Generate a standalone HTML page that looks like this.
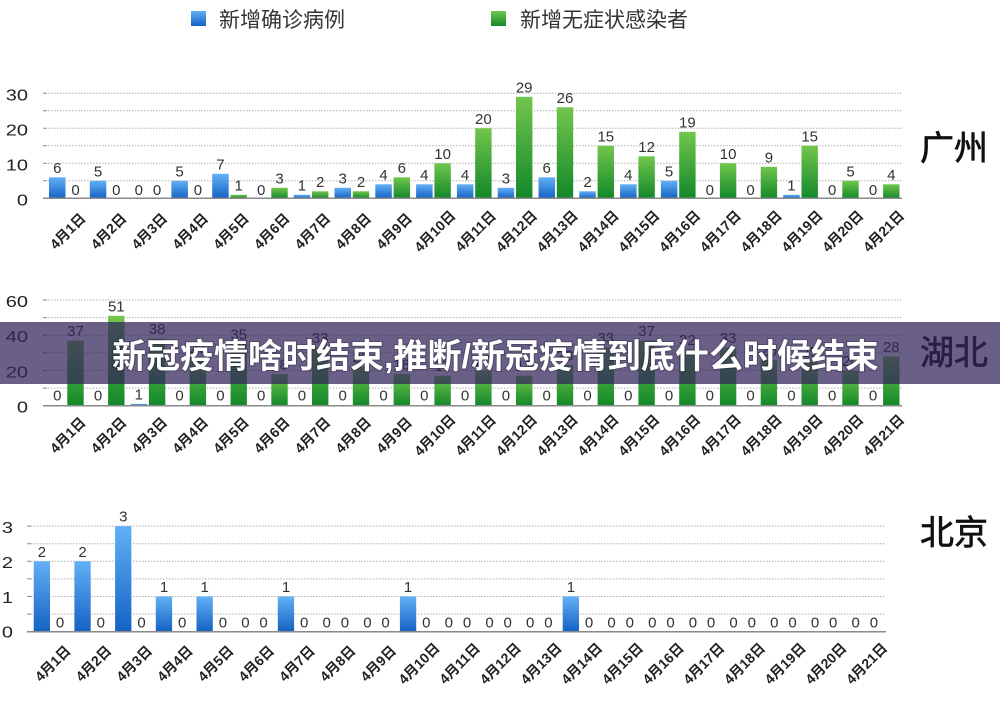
<!DOCTYPE html>
<html><head><meta charset="utf-8"><style>
html,body{margin:0;padding:0;background:#fff;}
svg{display:block;}
.v{font-family:"Liberation Sans",sans-serif;font-size:15px;fill:#333;text-anchor:middle;}
.c{font-family:"Liberation Sans","Noto Sans CJK SC",sans-serif;font-weight:bold;font-size:14px;fill:#222;text-anchor:middle;}
.yl{font-family:"Liberation Sans",sans-serif;font-size:16px;fill:#222;text-anchor:end;}
.lg{font-family:"Liberation Sans","Noto Sans CJK SC",sans-serif;font-size:21px;fill:#333;}
.tt{font-family:"Liberation Sans","Noto Sans CJK SC",sans-serif;font-size:34px;fill:#111;stroke:#111;stroke-width:0.7;}
.bn{font-family:"Liberation Sans","Noto Sans CJK SC",sans-serif;font-size:34px;font-weight:bold;fill:#fff;}
.gr{stroke:#b0b0b0;stroke-width:1;stroke-dasharray:1.5 1.5;fill:none;}
.tk{stroke:#888;stroke-width:1;fill:none;}
.ax{stroke:#8a8a8a;stroke-width:1.5;fill:none;}
</style></head><body>
<svg width="1000" height="706" viewBox="0 0 1000 706" xmlns="http://www.w3.org/2000/svg">
<defs>
<linearGradient id="gb" x1="0" y1="0" x2="0" y2="1"><stop offset="0" stop-color="#62b0f5"/><stop offset="1" stop-color="#1462c4"/></linearGradient>
<linearGradient id="gg" x1="0" y1="0" x2="0" y2="1"><stop offset="0" stop-color="#72c64c"/><stop offset="1" stop-color="#12882a"/></linearGradient>
</defs>
<rect width="1000" height="706" fill="#fff"/>

<!-- legend -->
<rect x="191" y="11" width="15" height="15" fill="url(#gb)"/>
<text class="lg" x="219" y="27">新增确诊病例</text>
<rect x="491" y="11" width="15" height="15" fill="url(#gg)"/>
<text class="lg" x="520" y="27">新增无症状感染者</text>

<!-- ============ Chart 1 广州 ============ -->
<path class="gr" d="M48 93.3H902M48 110.8H902M48 128.3H902M48 145.8H902M48 163.3H902M48 180.8H902"/>
<path class="tk" d="M43 93.3H47M43 110.8H47M43 128.3H47M43 145.8H47M43 163.3H47M43 180.8H47"/>
<text class="yl" transform="translate(28 100.7) scale(1.25 1)">30</text>
<text class="yl" transform="translate(28 135.7) scale(1.25 1)">20</text>
<text class="yl" transform="translate(28 170.7) scale(1.25 1)">10</text>
<text class="yl" transform="translate(28 205.5) scale(1.25 1)">0</text>
<text class="tt" x="920" y="160">广州</text>

<g fill="url(#gb)">
<rect x="49" y="177.3" width="16.5" height="21"/>
<rect x="89.8" y="180.8" width="16.5" height="17.5"/>
<rect x="171.4" y="180.8" width="16.5" height="17.5"/>
<rect x="212.2" y="173.8" width="16.5" height="24.5"/>
<rect x="293.7" y="194.8" width="16.5" height="3.5"/>
<rect x="334.5" y="187.8" width="16.5" height="10.5"/>
<rect x="375.3" y="184.3" width="16.5" height="14"/>
<rect x="416.1" y="184.3" width="16.5" height="14"/>
<rect x="456.9" y="184.3" width="16.5" height="14"/>
<rect x="497.7" y="187.8" width="16.5" height="10.5"/>
<rect x="538.5" y="177.3" width="16.5" height="21"/>
<rect x="579.3" y="191.3" width="16.5" height="7"/>
<rect x="620.1" y="184.3" width="16.5" height="14"/>
<rect x="660.9" y="180.8" width="16.5" height="17.5"/>
<rect x="783.2" y="194.8" width="16.5" height="3.5"/>
</g>
<g fill="url(#gg)">
<rect x="230.5" y="194.8" width="16.4" height="3.5"/>
<rect x="271.3" y="187.8" width="16.4" height="10.5"/>
<rect x="312.0" y="191.3" width="16.4" height="7"/>
<rect x="352.8" y="191.3" width="16.4" height="7"/>
<rect x="393.6" y="177.3" width="16.4" height="21"/>
<rect x="434.4" y="163.3" width="16.4" height="35"/>
<rect x="475.2" y="128.3" width="16.4" height="70"/>
<rect x="516.0" y="96.8" width="16.4" height="101.5"/>
<rect x="556.8" y="107.3" width="16.4" height="91"/>
<rect x="597.6" y="145.8" width="16.4" height="52.5"/>
<rect x="638.4" y="156.3" width="16.4" height="42"/>
<rect x="679.2" y="131.8" width="16.4" height="66.5"/>
<rect x="719.9" y="163.3" width="16.4" height="35"/>
<rect x="760.7" y="166.8" width="16.4" height="31.5"/>
<rect x="801.5" y="145.8" width="16.4" height="52.5"/>
<rect x="842.3" y="180.8" width="16.4" height="17.5"/>
<rect x="883.1" y="184.3" width="16.4" height="14"/>
</g>
<path class="ax" d="M43 198.3H902"/>
<g class="v">
<text x="57.3" y="172.8">6</text>
<text x="98.0" y="176.3">5</text>
<text x="138.8" y="195">0</text>
<text x="179.6" y="176.3">5</text>
<text x="220.4" y="169.3">7</text>
<text x="261.2" y="195">0</text>
<text x="301.9" y="190.3">1</text>
<text x="342.7" y="183.3">3</text>
<text x="383.5" y="179.8">4</text>
<text x="424.3" y="179.8">4</text>
<text x="465.1" y="179.8">4</text>
<text x="505.9" y="183.3">3</text>
<text x="546.7" y="172.8">6</text>
<text x="587.5" y="186.8">2</text>
<text x="628.3" y="179.8">4</text>
<text x="669.1" y="176.3">5</text>
<text x="709.8" y="195">0</text>
<text x="750.6" y="195">0</text>
<text x="791.4" y="190.3">1</text>
<text x="832.2" y="195">0</text>
<text x="873.0" y="195">0</text>
<text x="75.5" y="195">0</text>
<text x="116.3" y="195">0</text>
<text x="157.1" y="195">0</text>
<text x="197.9" y="195">0</text>
<text x="238.7" y="190.3">1</text>
<text x="279.5" y="183.3">3</text>
<text x="320.2" y="186.8">2</text>
<text x="361.0" y="186.8">2</text>
<text x="401.8" y="172.8">6</text>
<text x="442.6" y="158.8">10</text>
<text x="483.4" y="123.8">20</text>
<text x="524.2" y="92.3">29</text>
<text x="565.0" y="102.8">26</text>
<text x="605.8" y="141.3">15</text>
<text x="646.6" y="151.8">12</text>
<text x="687.4" y="127.3">19</text>
<text x="728.1" y="158.8">10</text>
<text x="768.9" y="162.3">9</text>
<text x="809.7" y="141.3">15</text>
<text x="850.5" y="176.3">5</text>
<text x="891.3" y="179.8">4</text>
</g>
<g class="c">
<text dy=".37em" transform="translate(67.5 231) rotate(-45)">4月1日</text>
<text dy=".37em" transform="translate(108.3 231) rotate(-45)">4月2日</text>
<text dy=".37em" transform="translate(149.1 231) rotate(-45)">4月3日</text>
<text dy=".37em" transform="translate(189.9 231) rotate(-45)">4月4日</text>
<text dy=".37em" transform="translate(230.7 231) rotate(-45)">4月5日</text>
<text dy=".37em" transform="translate(271.5 231) rotate(-45)">4月6日</text>
<text dy=".37em" transform="translate(312.2 231) rotate(-45)">4月7日</text>
<text dy=".37em" transform="translate(353.0 231) rotate(-45)">4月8日</text>
<text dy=".37em" transform="translate(393.8 231) rotate(-45)">4月9日</text>
<text dy=".37em" transform="translate(434.6 231) rotate(-45)">4月10日</text>
<text dy=".37em" transform="translate(475.4 231) rotate(-45)">4月11日</text>
<text dy=".37em" transform="translate(516.2 231) rotate(-45)">4月12日</text>
<text dy=".37em" transform="translate(557.0 231) rotate(-45)">4月13日</text>
<text dy=".37em" transform="translate(597.8 231) rotate(-45)">4月14日</text>
<text dy=".37em" transform="translate(638.6 231) rotate(-45)">4月15日</text>
<text dy=".37em" transform="translate(679.4 231) rotate(-45)">4月16日</text>
<text dy=".37em" transform="translate(720.1 231) rotate(-45)">4月17日</text>
<text dy=".37em" transform="translate(760.9 231) rotate(-45)">4月18日</text>
<text dy=".37em" transform="translate(801.7 231) rotate(-45)">4月19日</text>
<text dy=".37em" transform="translate(842.5 231) rotate(-45)">4月20日</text>
<text dy=".37em" transform="translate(883.3 231) rotate(-45)">4月21日</text>
</g>

<!-- ============ Chart 2 湖北 ============ -->
<path class="gr" d="M48 300H902M48 317.6H902M48 335.2H902M48 352.8H902M48 370.5H902M48 388.1H902"/>
<path class="tk" d="M43 300H47M43 317.6H47M43 335.2H47M43 352.8H47M43 370.5H47M43 388.1H47"/>
<text class="yl" transform="translate(28 307) scale(1.25 1)">60</text>
<text class="yl" transform="translate(28 342.2) scale(1.25 1)">40</text>
<text class="yl" transform="translate(28 377.5) scale(1.25 1)">20</text>
<text class="yl" transform="translate(28 412.7) scale(1.25 1)">0</text>
<text class="tt" x="920" y="364.6">湖北</text>

<rect x="130.6" y="403.9" width="16.5" height="1.8" fill="url(#gb)"/>
<g fill="url(#gg)">
<rect x="67.3" y="340.5" width="16.4" height="65.2"/>
<rect x="108.1" y="315.8" width="16.4" height="89.9"/>
<rect x="148.9" y="338.7" width="16.4" height="67"/>
<rect x="189.7" y="358.1" width="16.4" height="47.6"/>
<rect x="230.5" y="344.0" width="16.4" height="61.7"/>
<rect x="271.3" y="374.0" width="16.4" height="31.7"/>
<rect x="312.0" y="347.6" width="16.4" height="58.1"/>
<rect x="352.8" y="366.9" width="16.4" height="38.8"/>
<rect x="393.6" y="374.0" width="16.4" height="31.7"/>
<rect x="434.4" y="375.7" width="16.4" height="30"/>
<rect x="475.2" y="370.5" width="16.4" height="35.2"/>
<rect x="516.0" y="375.7" width="16.4" height="30"/>
<rect x="556.8" y="365.2" width="16.4" height="40.5"/>
<rect x="597.6" y="347.6" width="16.4" height="58.1"/>
<rect x="638.4" y="340.5" width="16.4" height="65.2"/>
<rect x="679.2" y="349.3" width="16.4" height="56.4"/>
<rect x="719.9" y="347.6" width="16.4" height="58.1"/>
<rect x="760.7" y="359.9" width="16.4" height="45.8"/>
<rect x="801.5" y="361.6" width="16.4" height="44.1"/>
<rect x="842.3" y="370.5" width="16.4" height="35.2"/>
<rect x="883.1" y="356.4" width="16.4" height="49.3"/>
</g>
<path class="ax" d="M43 405.7H902"/>
<g class="v">
<text x="57.3" y="400.7">0</text>
<text x="98.0" y="400.7">0</text>
<text x="138.8" y="399.4">1</text>
<text x="179.6" y="400.7">0</text>
<text x="220.4" y="400.7">0</text>
<text x="261.2" y="400.7">0</text>
<text x="301.9" y="400.7">0</text>
<text x="342.7" y="400.7">0</text>
<text x="383.5" y="400.7">0</text>
<text x="424.3" y="400.7">0</text>
<text x="465.1" y="400.7">0</text>
<text x="505.9" y="400.7">0</text>
<text x="546.7" y="400.7">0</text>
<text x="587.5" y="400.7">0</text>
<text x="628.3" y="400.7">0</text>
<text x="669.1" y="400.7">0</text>
<text x="709.8" y="400.7">0</text>
<text x="750.6" y="400.7">0</text>
<text x="791.4" y="400.7">0</text>
<text x="832.2" y="400.7">0</text>
<text x="873.0" y="400.7">0</text>
<text x="75.5" y="336.0">37</text>
<text x="116.3" y="311.3">51</text>
<text x="157.1" y="334.2">38</text>
<text x="197.9" y="353.6">27</text>
<text x="238.7" y="339.5">35</text>
<text x="279.5" y="369.5">18</text>
<text x="320.2" y="343.1">33</text>
<text x="361.0" y="362.4">22</text>
<text x="401.8" y="369.5">18</text>
<text x="442.6" y="371.2">17</text>
<text x="483.4" y="366.0">20</text>
<text x="524.2" y="371.2">17</text>
<text x="565.0" y="360.7">23</text>
<text x="605.8" y="343.1">33</text>
<text x="646.6" y="336.0">37</text>
<text x="687.4" y="344.8">32</text>
<text x="728.1" y="343.1">33</text>
<text x="768.9" y="355.4">26</text>
<text x="809.7" y="357.1">25</text>
<text x="850.5" y="366.0">20</text>
<text x="891.3" y="351.9">28</text>
</g>
<g class="c">
<text dy=".37em" transform="translate(67.5 435) rotate(-45)">4月1日</text>
<text dy=".37em" transform="translate(108.3 435) rotate(-45)">4月2日</text>
<text dy=".37em" transform="translate(149.1 435) rotate(-45)">4月3日</text>
<text dy=".37em" transform="translate(189.9 435) rotate(-45)">4月4日</text>
<text dy=".37em" transform="translate(230.7 435) rotate(-45)">4月5日</text>
<text dy=".37em" transform="translate(271.5 435) rotate(-45)">4月6日</text>
<text dy=".37em" transform="translate(312.2 435) rotate(-45)">4月7日</text>
<text dy=".37em" transform="translate(353.0 435) rotate(-45)">4月8日</text>
<text dy=".37em" transform="translate(393.8 435) rotate(-45)">4月9日</text>
<text dy=".37em" transform="translate(434.6 435) rotate(-45)">4月10日</text>
<text dy=".37em" transform="translate(475.4 435) rotate(-45)">4月11日</text>
<text dy=".37em" transform="translate(516.2 435) rotate(-45)">4月12日</text>
<text dy=".37em" transform="translate(557.0 435) rotate(-45)">4月13日</text>
<text dy=".37em" transform="translate(597.8 435) rotate(-45)">4月14日</text>
<text dy=".37em" transform="translate(638.6 435) rotate(-45)">4月15日</text>
<text dy=".37em" transform="translate(679.4 435) rotate(-45)">4月16日</text>
<text dy=".37em" transform="translate(720.1 435) rotate(-45)">4月17日</text>
<text dy=".37em" transform="translate(760.9 435) rotate(-45)">4月18日</text>
<text dy=".37em" transform="translate(801.7 435) rotate(-45)">4月19日</text>
<text dy=".37em" transform="translate(842.5 435) rotate(-45)">4月20日</text>
<text dy=".37em" transform="translate(883.3 435) rotate(-45)">4月21日</text>
</g>

<!-- banner overlay -->
<rect x="0" y="322" width="1000" height="62" fill="rgb(50,35,90)" fill-opacity="0.73"/>
<text class="bn" x="112" y="368" style="paint-order:stroke" stroke="rgba(0,0,0,0.25)" stroke-width="2">新冠疫情啥时结束,推断/新冠疫情到底什么时候结束</text>

<!-- ============ Chart 3 北京 ============ -->
<path class="gr" d="M31 526.1H886M31 543.7H886M31 561.3H886M31 578.9H886M31 596.5H886M31 614.1H886"/>
<path class="tk" d="M27 526.1H31M27 543.7H31M27 561.3H31M27 578.9H31M27 596.5H31M27 614.1H31"/>
<text class="yl" transform="translate(13 533) scale(1.25 1)">3</text>
<text class="yl" transform="translate(13 568) scale(1.25 1)">2</text>
<text class="yl" transform="translate(13 603) scale(1.25 1)">1</text>
<text class="yl" transform="translate(13 637.5) scale(1.25 1)">0</text>
<text class="tt" x="920" y="544.6">北京</text>

<g fill="url(#gb)">
<rect x="33.7" y="561.3" width="16.3" height="70.4"/>
<rect x="74.4" y="561.3" width="16.3" height="70.4"/>
<rect x="115.1" y="526.1" width="16.3" height="105.6"/>
<rect x="155.8" y="596.5" width="16.3" height="35.2"/>
<rect x="196.5" y="596.5" width="16.3" height="35.2"/>
<rect x="277.8" y="596.5" width="16.3" height="35.2"/>
<rect x="399.9" y="596.5" width="16.3" height="35.2"/>
<rect x="562.7" y="596.5" width="16.3" height="35.2"/>
</g>
<path class="ax" d="M27 631.7H886"/>
<g class="v">
<text x="41.9" y="556.8">2</text>
<text x="82.6" y="556.8">2</text>
<text x="123.3" y="521.6">3</text>
<text x="164.0" y="592">1</text>
<text x="204.7" y="592">1</text>
<text x="245.4" y="627.7">0</text>
<text x="286.0" y="592">1</text>
<text x="326.7" y="627.7">0</text>
<text x="367.4" y="627.7">0</text>
<text x="408.1" y="592">1</text>
<text x="448.8" y="627.7">0</text>
<text x="489.5" y="627.7">0</text>
<text x="530.2" y="627.7">0</text>
<text x="570.9" y="592">1</text>
<text x="611.6" y="627.7">0</text>
<text x="652.3" y="627.7">0</text>
<text x="692.9" y="627.7">0</text>
<text x="733.6" y="627.7">0</text>
<text x="774.3" y="627.7">0</text>
<text x="815.0" y="627.7">0</text>
<text x="855.7" y="627.7">0</text>
<text x="60.1" y="627.7">0</text>
<text x="100.8" y="627.7">0</text>
<text x="141.5" y="627.7">0</text>
<text x="182.2" y="627.7">0</text>
<text x="222.9" y="627.7">0</text>
<text x="263.6" y="627.7">0</text>
<text x="304.2" y="627.7">0</text>
<text x="344.9" y="627.7">0</text>
<text x="385.6" y="627.7">0</text>
<text x="426.3" y="627.7">0</text>
<text x="467.0" y="627.7">0</text>
<text x="507.7" y="627.7">0</text>
<text x="548.4" y="627.7">0</text>
<text x="589.1" y="627.7">0</text>
<text x="629.8" y="627.7">0</text>
<text x="670.5" y="627.7">0</text>
<text x="711.1" y="627.7">0</text>
<text x="751.8" y="627.7">0</text>
<text x="792.5" y="627.7">0</text>
<text x="833.2" y="627.7">0</text>
<text x="873.9" y="627.7">0</text>
</g>
<g class="c">
<text dy=".37em" transform="translate(52.5 663.3) rotate(-45)">4月1日</text>
<text dy=".37em" transform="translate(93.2 663.3) rotate(-45)">4月2日</text>
<text dy=".37em" transform="translate(133.9 663.3) rotate(-45)">4月3日</text>
<text dy=".37em" transform="translate(174.6 663.3) rotate(-45)">4月4日</text>
<text dy=".37em" transform="translate(215.3 663.3) rotate(-45)">4月5日</text>
<text dy=".37em" transform="translate(256.0 663.3) rotate(-45)">4月6日</text>
<text dy=".37em" transform="translate(296.6 663.3) rotate(-45)">4月7日</text>
<text dy=".37em" transform="translate(337.3 663.3) rotate(-45)">4月8日</text>
<text dy=".37em" transform="translate(378.0 663.3) rotate(-45)">4月9日</text>
<text dy=".37em" transform="translate(418.7 663.3) rotate(-45)">4月10日</text>
<text dy=".37em" transform="translate(459.4 663.3) rotate(-45)">4月11日</text>
<text dy=".37em" transform="translate(500.1 663.3) rotate(-45)">4月12日</text>
<text dy=".37em" transform="translate(540.8 663.3) rotate(-45)">4月13日</text>
<text dy=".37em" transform="translate(581.5 663.3) rotate(-45)">4月14日</text>
<text dy=".37em" transform="translate(622.2 663.3) rotate(-45)">4月15日</text>
<text dy=".37em" transform="translate(662.9 663.3) rotate(-45)">4月16日</text>
<text dy=".37em" transform="translate(703.5 663.3) rotate(-45)">4月17日</text>
<text dy=".37em" transform="translate(744.2 663.3) rotate(-45)">4月18日</text>
<text dy=".37em" transform="translate(784.9 663.3) rotate(-45)">4月19日</text>
<text dy=".37em" transform="translate(825.6 663.3) rotate(-45)">4月20日</text>
<text dy=".37em" transform="translate(866.3 663.3) rotate(-45)">4月21日</text>
</g>
</svg>
</body></html>
